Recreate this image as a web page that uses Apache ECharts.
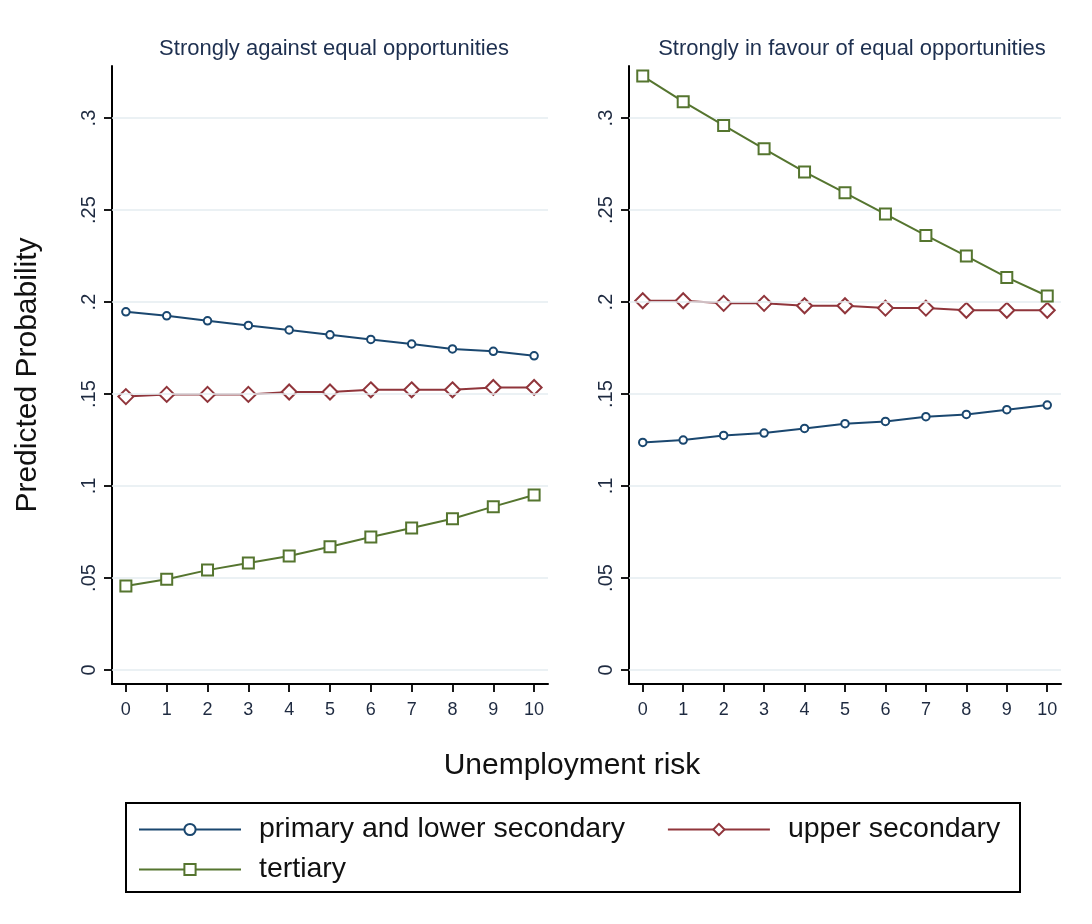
<!DOCTYPE html>
<html>
<head>
<meta charset="utf-8">
<script src="https://cdn.jsdelivr.net/npm/echarts@6/dist/echarts.min.js"></script>
<style>
  html, body { margin: 0; padding: 0; background: #ffffff; }
  #chart { width: 1092px; height: 924px; }
</style>
</head>
<body>
<div id="chart"></div>
<script>
// Unemployment risk scale (x) and probability ticks (y)
const risk = [0, 1, 2, 3, 4, 5, 6, 7, 8, 9, 10];
const yTicks = [0, 0.05, 0.1, 0.15, 0.2, 0.25, 0.3];
const yTickLabels = ['0', '.05', '.1', '.15', '.2', '.25', '.3'];

const panelTitles = ['Strongly against equal opportunities', 'Strongly in favour of equal opportunities'];
const seriesNames = ['primary and lower secondary', 'upper secondary', 'tertiary'];

// Predicted probabilities: strongly against equal opportunities
const againstPrimary = [0.1947, 0.1925, 0.1898, 0.1873, 0.1848, 0.1822, 0.1797, 0.1772, 0.1745, 0.1732, 0.1708];
const againstUpper   = [0.1486, 0.1498, 0.1498, 0.1498, 0.1511, 0.1511, 0.1523, 0.1523, 0.1523, 0.1536, 0.1536];
const againstTertiary = [0.0457, 0.0493, 0.0543, 0.0582, 0.0620, 0.0670, 0.0723, 0.0772, 0.0822, 0.0888, 0.0951];

// Predicted probabilities: strongly in favour of equal opportunities
const favourPrimary = [0.1237, 0.1250, 0.1275, 0.1288, 0.1313, 0.1339, 0.1351, 0.1377, 0.1389, 0.1415, 0.1440];
const favourUpper   = [0.2007, 0.2007, 0.1993, 0.1993, 0.1980, 0.1980, 0.1967, 0.1967, 0.1955, 0.1955, 0.1955];
const favourTertiary = [0.3228, 0.3089, 0.2960, 0.2833, 0.2707, 0.2594, 0.2478, 0.2362, 0.2250, 0.2134, 0.2033];

const colors = ['#1a476f', '#90353b', '#55752f'];
const symbols = ['emptyCircle', 'emptyDiamond', 'emptyRect'];
const symbolSizes = [7.5, 15, 11];
const FONT = 'Liberation Sans, Arial, sans-serif';

const chart = echarts.init(document.getElementById('chart'), null, { renderer: 'canvas' });

function pairs(values) {
  return risk.map((r, i) => [r, values[i]]);
}

function xAxisFor(gridIndex) {
  return {
    type: 'value', gridIndex, min: -0.34, max: 10.34,
    axisLine: { show: true, onZero: false, lineStyle: { color: '#000', width: 2 } },
    axisTick: { show: true, length: 8, lineStyle: { color: '#000', width: 1.8 }, customValues: risk },
    axisLabel: { show: true, color: '#1e2a40', fontFamily: FONT, fontSize: 18, margin: 17,
                 customValues: risk, formatter: v => String(v) },
    splitLine: { show: false }
  };
}

function yAxisFor(gridIndex, withName) {
  return {
    type: 'value', gridIndex, min: -0.0076, max: 0.3283,
    name: withName ? 'Predicted Probability' : '',
    nameLocation: 'middle', nameGap: 69,
    nameTextStyle: { fontFamily: FONT, fontSize: 30, color: '#111' },
    axisLine: { show: true, onZero: false, lineStyle: { color: '#000', width: 2 } },
    axisTick: { show: true, length: 8, lineStyle: { color: '#000', width: 1.8 }, customValues: yTicks },
    axisLabel: { show: true, color: '#1e2a40', fontFamily: FONT, fontSize: 20, rotate: 90, margin: 13,
                 customValues: yTicks,
                 formatter: v => yTickLabels[yTicks.findIndex(t => Math.abs(t - v) < 1e-9)] ?? '' },
    splitLine: { show: false }
  };
}

// Light horizontal reference lines at each probability tick
function gridLines() {
  return {
    silent: true, symbol: 'none', label: { show: false },
    lineStyle: { color: '#e4edf0', width: 1.5, type: 'solid' },
    data: yTicks.map(t => ({ yAxis: t }))
  };
}

function makeSeries(name, values, idx, gridIdx, withGrid) {
  const s = {
    name, type: 'line', xAxisIndex: gridIdx, yAxisIndex: gridIdx,
    data: pairs(values), symbol: symbols[idx], symbolSize: symbolSizes[idx],
    showSymbol: true, clip: false, z: 3 + idx,
    lineStyle: { color: colors[idx], width: 2 },
    itemStyle: { color: colors[idx], borderColor: colors[idx], borderWidth: 1.6 },
    emphasis: { disabled: true }
  };
  if (withGrid) s.markLine = gridLines();
  return s;
}

const legendText = { fontFamily: FONT, fontSize: 28.5, color: '#111', padding: [0, 0, 0, 13] };

const option = {
  backgroundColor: '#ffffff',
  animation: false,
  title: [
    { text: panelTitles[0], left: 329, top: 33, textAlign: 'center',
      textStyle: { fontFamily: FONT, fontSize: 22, fontWeight: 'normal', color: '#1e3050' } },
    { text: panelTitles[1], left: 847, top: 33, textAlign: 'center',
      textStyle: { fontFamily: FONT, fontSize: 22, fontWeight: 'normal', color: '#1e3050' } },
    { text: 'Unemployment risk', left: 567, top: 746, textAlign: 'center',
      textStyle: { fontFamily: FONT, fontSize: 30, fontWeight: 'normal', color: '#111' } }
  ],
  grid: [
    { left: 112, top: 66, width: 436, height: 618 },
    { left: 629, top: 66, width: 432, height: 618 }
  ],
  xAxis: [xAxisFor(0), xAxisFor(1)],
  yAxis: [yAxisFor(0, true), yAxisFor(1, false)],
  legend: [
    { data: [seriesNames[0], seriesNames[1]], left: 138, top: 815, padding: 0,
      itemWidth: 102, itemHeight: 14, itemGap: 42, textStyle: legendText },
    { data: [seriesNames[2]], left: 138, top: 855, padding: 0,
      itemWidth: 102, itemHeight: 14, textStyle: legendText }
  ],
  graphic: [
    { type: 'rect', shape: { x: 126, y: 803, width: 894, height: 89 },
      style: { fill: 'none', stroke: '#000', lineWidth: 2 }, silent: true }
  ],
  series: [
    makeSeries(seriesNames[0], againstPrimary, 0, 0, true),
    makeSeries(seriesNames[1], againstUpper, 1, 0, false),
    makeSeries(seriesNames[2], againstTertiary, 2, 0, false),
    makeSeries(seriesNames[0], favourPrimary, 0, 1, true),
    makeSeries(seriesNames[1], favourUpper, 1, 1, false),
    makeSeries(seriesNames[2], favourTertiary, 2, 1, false)
  ]
};

chart.setOption(option);
</script>
</body>
</html>
